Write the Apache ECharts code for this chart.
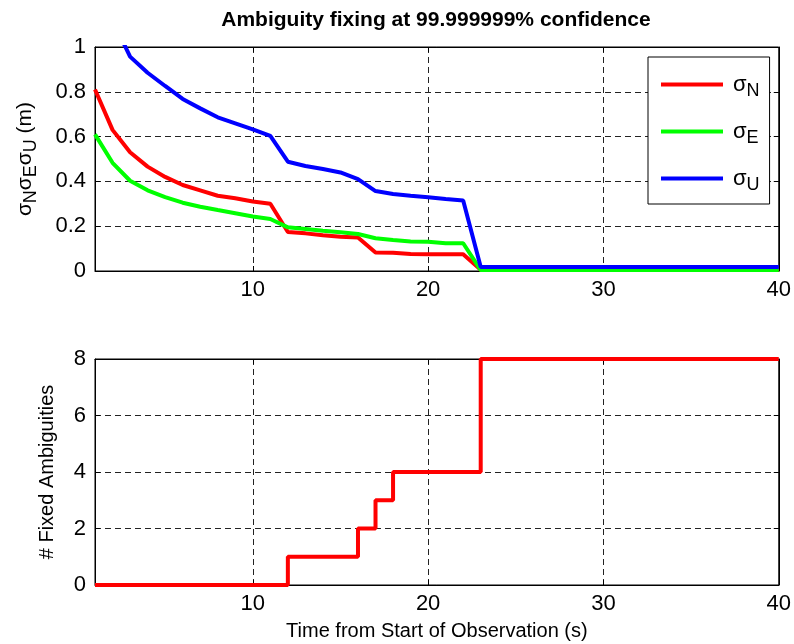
<!DOCTYPE html>
<html>
<head>
<meta charset="utf-8">
<script src="https://cdn.jsdelivr.net/npm/echarts@6/dist/echarts.min.js"></script>
<style>html,body{margin:0;padding:0;background:#fff}#c{width:794px;height:644px}</style>
</head>
<body>
<div id="c"></div>
<script>
const timeS = [1,2,3,4,5,6,7,8,9,10,11,12,13,14,15,16,17,18,19,20,21,22,23,24,25,26,27,28,29,30,31,32,33,34,35,36,37,38,39,40];
const sigmaN = [0.81,0.63,0.53,0.466,0.42,0.384,0.36,0.336,0.325,0.31,0.30,0.174,0.168,0.16,0.153,0.15,0.083,0.082,0.076,0.075,0.075,0.075,0.005,0.005,0.005,0.005,0.005,0.005,0.005,0.005,0.005,0.005,0.005,0.005,0.005,0.005,0.005,0.005,0.005,0.005];
const sigmaE = [0.61,0.483,0.403,0.36,0.33,0.305,0.287,0.272,0.258,0.243,0.232,0.195,0.188,0.18,0.173,0.165,0.146,0.138,0.132,0.131,0.124,0.124,0.004,0.004,0.004,0.004,0.004,0.004,0.004,0.004,0.004,0.004,0.004,0.004,0.004,0.004,0.004,0.004,0.004,0.004];
const sigmaU = [1.4,1.12,0.957,0.885,0.826,0.768,0.726,0.686,0.659,0.632,0.603,0.488,0.469,0.455,0.44,0.41,0.357,0.344,0.336,0.329,0.321,0.315,0.018,0.018,0.018,0.018,0.018,0.018,0.018,0.018,0.018,0.018,0.018,0.018,0.018,0.018,0.018,0.018,0.018,0.018];
const fixedAmb = [0,0,0,0,0,0,0,0,0,0,0,1,1,1,1,2,3,4,4,4,4,4,8,8,8,8,8,8,8,8,8,8,8,8,8,8,8,8,8,8];
const xTicks = [10,20,30,40];
const legendNames = ['σN','σE','σU'];

const FONT = 'Liberation Sans, Arial, sans-serif';
const pair = (xs, ys) => xs.map((x, i) => [x, ys[i]]);
const gridLine = {show: true, lineStyle: {color: '#222', width: 1, type: [6, 4]}};
const lbl = {color: '#000', fontSize: 22, fontFamily: FONT, margin: 8};

function xAx(gi, pos, labels) {
  return {
    type: 'value', gridIndex: gi, position: pos, min: 1, max: 40,
    axisLine: {show: true, onZero: false, lineStyle: {color: '#000', width: 1}},
    axisTick: {show: true, inside: true, length: 5, customValues: xTicks, lineStyle: {color: '#000'}},
    axisLabel: Object.assign({show: labels, customValues: xTicks}, lbl),
    splitLine: pos === 'bottom' ? gridLine : {show: false}
  };
}
function yAx(gi, pos, max, interval, labels, extra) {
  return Object.assign({
    type: 'value', gridIndex: gi, position: pos, min: 0, max: max, interval: interval,
    axisLine: {show: true, onZero: false, lineStyle: {color: '#000', width: 1}},
    axisTick: {show: true, inside: true, length: 5, lineStyle: {color: '#000'}},
    axisLabel: Object.assign({show: labels, formatter: v => String(+v.toFixed(2))}, lbl, {margin: 9}),
    splitLine: pos === 'left' ? gridLine : {show: false}
  }, extra || {});
}

const chart = echarts.init(document.getElementById('c'), null, {renderer: 'canvas'});
chart.setOption({
  animation: false,
  backgroundColor: '#fff',
  title: {
    text: 'Ambiguity fixing at 99.999999% confidence',
    left: 431, top: 5, textAlign: 'center',
    textStyle: {fontSize: 21, fontWeight: 'bold', color: '#000', fontFamily: FONT}
  },
  grid: [
    {left: 95, right: 15, top: 47, height: 224, show: true, borderColor: '#000', borderWidth: 1},
    {left: 95, right: 15, top: 359, height: 226, show: true, borderColor: '#000', borderWidth: 1}
  ],
  legend: {
    orient: 'vertical', left: 648, top: 57,
    data: legendNames,
    icon: 'rect', itemWidth: 62, itemHeight: 4, itemGap: 15,
    padding: [11, 10, 10, 13],
    borderColor: '#000', borderWidth: 1, backgroundColor: '#fff',
    formatter: n => '{s|σ}{b|' + n.slice(1) + '}',
    textStyle: {
      color: '#000', fontFamily: FONT,
      rich: {
        s: {fontSize: 22, fontFamily: FONT, color: '#000', lineHeight: 31, verticalAlign: 'middle', padding: [0, 0, 0, 5]},
        b: {fontSize: 18, fontFamily: FONT, color: '#000', lineHeight: 31, verticalAlign: 'bottom', padding: [14, 0, 0, 0]}
      }
    }
  },
  xAxis: [
    xAx(0, 'bottom', true),
    xAx(0, 'top', false),
    Object.assign(xAx(1, 'bottom', true), {
      name: 'Time from Start of Observation (s)', nameLocation: 'middle', nameGap: 36,
      nameTextStyle: {fontSize: 20, color: '#000', fontFamily: FONT}
    }),
    xAx(1, 'top', false)
  ],
  yAxis: [
    yAx(0, 'left', 1, 0.2, true, {
      name: '{s|σ}{b|N}{s|σ}{b|E}{s|σ}{b|U}{s| (m)}', nameLocation: 'middle', nameGap: 57, nameRotate: 90,
      nameTextStyle: {
        color: '#000', fontFamily: FONT,
        rich: {
          s: {fontSize: 21, fontFamily: FONT, color: '#000', lineHeight: 26},
          b: {fontSize: 18, fontFamily: FONT, color: '#000', lineHeight: 26, padding: [12, 0, 0, 0]}
        }
      }
    }),
    yAx(0, 'right', 1, 0.2, false),
    yAx(1, 'left', 8, 2, true, {
      name: '# Fixed Ambiguities', nameLocation: 'middle', nameGap: 38, nameRotate: 90,
      nameTextStyle: {fontSize: 20, color: '#000', fontFamily: FONT}
    }),
    yAx(1, 'right', 8, 2, false)
  ],
  series: [
    {name: 'σN', type: 'line', xAxisIndex: 0, yAxisIndex: 0, data: pair(timeS, sigmaN), showSymbol: false, clip: true,
     lineStyle: {color: '#ff0000', width: 4}, itemStyle: {color: '#ff0000'}, z: 3},
    {name: 'σE', type: 'line', xAxisIndex: 0, yAxisIndex: 0, data: pair(timeS, sigmaE), showSymbol: false, clip: true,
     lineStyle: {color: '#00ff00', width: 4}, itemStyle: {color: '#00ff00'}, z: 4},
    {name: 'σU', type: 'line', xAxisIndex: 0, yAxisIndex: 0, data: pair(timeS, sigmaU), showSymbol: false, clip: true,
     lineStyle: {color: '#0000ff', width: 4}, itemStyle: {color: '#0000ff'}, z: 5},
    {name: 'fixed', type: 'line', step: 'end', xAxisIndex: 2, yAxisIndex: 2, data: pair(timeS, fixedAmb), showSymbol: false, clip: false,
     lineStyle: {color: '#ff0000', width: 4}, itemStyle: {color: '#ff0000'}, z: 3}
  ]
});
</script>
</body>
</html>
